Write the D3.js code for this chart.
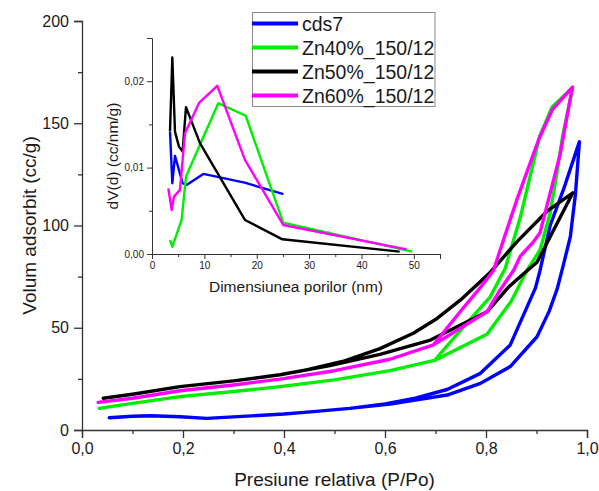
<!DOCTYPE html>
<html>
<head>
<meta charset="utf-8">
<script src="https://cdn.jsdelivr.net/npm/d3@7/dist/d3.min.js"></script>
<style>
  html, body { margin: 0; padding: 0; background: #fff; }
  svg text { font-family: "Liberation Sans", Arial, sans-serif; fill: #1a1a1a; }
</style>
</head>
<body>
<svg id="chart" width="599" height="491"></svg>
<script>
// Sample names and colours
const seriesNames = ["cds7", "Zn40%_150/12", "Zn50%_150/12", "Zn60%_150/12"];
const seriesColors = ["#0000ff", "#00ee00", "#000000", "#ff00ff"];

// N2 isotherms: [P/Po, volume adsorbed cc/g], adsorption branch followed by desorption branch
const isoCds7 = [
  [0.054, 6.0], [0.10, 6.7], [0.135, 7.0], [0.194, 6.5], [0.247, 5.7], [0.326, 6.8],
  [0.40, 7.8], [0.458, 9.0], [0.53, 10.6], [0.61, 12.7], [0.66, 14.6], [0.723, 17.1],
  [0.789, 22.8], [0.848, 31.0], [0.901, 45.6], [0.925, 58.0], [0.941, 69.0],
  [0.954, 81.5], [0.967, 94.5], [0.977, 115.0], [0.985, 141.0],
  [0.954, 118.0], [0.927, 100.0], [0.907, 78.0], [0.898, 69.5], [0.848, 41.6],
  [0.789, 27.7], [0.723, 19.8], [0.66, 15.6], [0.60, 12.8], [0.53, 10.6]
];
const isoZn40 = [
  [0.034, 10.6], [0.10, 13.0], [0.194, 16.3], [0.30, 18.8], [0.392, 21.2], [0.50, 24.5],
  [0.61, 29.0], [0.70, 34.2], [0.802, 46.8], [0.85, 63.0], [0.881, 78.0], [0.907, 88.0],
  [0.927, 106.0], [0.94, 125.0], [0.952, 144.0], [0.972, 167.6],
  [0.931, 158.0], [0.906, 143.4], [0.868, 104.0], [0.838, 79.0], [0.808, 65.0],
  [0.756, 50.5], [0.70, 34.6]
];
const isoZn50 = [
  [0.042, 15.5], [0.10, 17.5], [0.194, 21.2], [0.30, 24.0], [0.392, 27.0], [0.491, 31.5],
  [0.59, 37.0], [0.69, 44.0], [0.802, 57.8], [0.845, 70.0], [0.875, 76.5], [0.901, 82.0],
  [0.972, 116.0],
  [0.921, 107.0], [0.861, 92.0], [0.808, 77.0], [0.78, 70.5], [0.749, 63.5],
  [0.70, 54.0], [0.656, 47.3], [0.59, 39.8], [0.52, 33.8], [0.44, 29.2]
];
const isoZn60 = [
  [0.032, 13.5], [0.10, 15.5], [0.194, 19.2], [0.30, 22.0], [0.392, 24.9], [0.50, 29.0],
  [0.61, 34.6], [0.696, 41.6], [0.802, 57.8], [0.828, 68.5], [0.855, 78.2], [0.868, 85.0],
  [0.894, 92.0], [0.907, 96.5], [0.947, 135.0], [0.971, 167.6],
  [0.931, 156.5], [0.904, 141.8], [0.861, 112.5], [0.828, 88.0], [0.815, 78.0],
  [0.785, 68.5], [0.756, 60.0], [0.696, 41.6]
];

// Pore size distributions: [pore diameter nm, dV(d) cc/nm/g]
const psdCds7 = [
  [3.44, 0.01417], [3.88, 0.00819], [4.39, 0.01136], [5.85, 0.00819], [6.6, 0.0080],
  [9.8, 0.00927], [17.7, 0.00826], [25.1, 0.00692]
];
const psdZn40 = [
  [3.44, 0.00162], [3.88, 0.00085], [5.66, 0.00394], [6.49, 0.00896], [12.66, 0.01746],
  [17.9, 0.0160], [25.06, 0.00363], [49.7, 0.00027]
];
const psdZn50 = [
  [3.44, 0.0142], [3.88, 0.02275], [4.39, 0.01417], [5.15, 0.01243], [5.85, 0.01186],
  [6.49, 0.0170], [9.16, 0.01283], [17.75, 0.00394], [24.9, 0.0017], [47.3, 0.00027]
];
const psdZn60 = [
  [3.12, 0.0076], [3.75, 0.0051], [4.2, 0.00664], [5.34, 0.00742], [6.3, 0.01398],
  [9.03, 0.01753], [12.47, 0.01947], [17.75, 0.0109], [25.06, 0.00336], [48.6, 0.00054]
];

// Axis ticks
const mainXTicks = [0, 0.2, 0.4, 0.6, 0.8, 1.0];
const mainXMinor = [0.1, 0.3, 0.5, 0.7, 0.9];
const mainYTicks = [0, 50, 100, 150, 200];
const mainYMinor = [25, 75, 125, 175];
const insetXTicks = [0, 10, 20, 30, 40, 50];
const insetXMinor = [5, 15, 25, 35, 45, 55];
const insetYTicks = [0, 0.01, 0.02];
const insetYMinor = [0.005, 0.015, 0.025];

const isotherms = [isoCds7, isoZn40, isoZn50, isoZn60];
const distributions = [psdCds7, psdZn40, psdZn50, psdZn60];

const svg = d3.select("#chart");
const comma = d => d3.format(".1f")(d).replace(".", ",");
const comma2 = d => d3.format(".2f")(d).replace(".", ",");

// ---------- main plot ----------
const x = d3.scaleLinear().domain([0, 1]).range([82, 587]);
const y = d3.scaleLinear().domain([0, 200]).range([430, 21]);

const axisColor = "#333";

function styleAxis(g, fontSize) {
  g.select(".domain").attr("stroke", axisColor).attr("stroke-width", 1.3);
  g.selectAll(".tick line").attr("stroke", axisColor).attr("stroke-width", 1.3);
  g.selectAll(".tick text").attr("fill", "#1a1a1a")
    .style("font-family", '"Liberation Sans", Arial, sans-serif')
    .style("font-size", fontSize + "px");
}

const gx = svg.append("g").attr("transform", "translate(0,430)")
  .call(d3.axisBottom(x).tickValues(mainXTicks).tickFormat(comma).tickSizeOuter(0).tickSize(8).tickPadding(5));
styleAxis(gx, 16);
svg.append("g").attr("transform", "translate(0,430)")
  .call(d3.axisBottom(x).tickValues(mainXMinor).tickFormat("").tickSizeOuter(0).tickSize(4))
  .call(g => { g.select(".domain").remove(); g.selectAll("line").attr("stroke", axisColor).attr("stroke-width", 1.3); });

const gy = svg.append("g").attr("transform", "translate(82,0)")
  .call(d3.axisLeft(y).tickValues(mainYTicks).tickSizeOuter(0).tickSize(8).tickPadding(5));
styleAxis(gy, 16);
svg.append("g").attr("transform", "translate(82,0)")
  .call(d3.axisLeft(y).tickValues(mainYMinor).tickFormat("").tickSizeOuter(0).tickSize(4))
  .call(g => { g.select(".domain").remove(); g.selectAll("line").attr("stroke", axisColor).attr("stroke-width", 1.3); });

svg.append("text").attr("x", 334.5).attr("y", 486).attr("text-anchor", "middle")
  .style("font-size", "19px").text("Presiune relativa (P/Po)");
svg.append("text").attr("transform", "translate(36,225.5) rotate(-90)").attr("text-anchor", "middle")
  .style("font-size", "19px").text("Volum adsorbit (cc/g)");

const mainLine = d3.line().x(d => x(d[0])).y(d => y(d[1]));
svg.append("g").selectAll("path").data(isotherms).join("path")
  .attr("d", mainLine).attr("fill", "none")
  .attr("stroke", (d, i) => seriesColors[i]).attr("stroke-width", 3.4)
  .attr("stroke-linejoin", "round").attr("stroke-linecap", "round");

// ---------- inset: pore size distribution ----------
const ix = d3.scaleLinear().domain([0, 55]).range([152, 440]);
const iy = d3.scaleLinear().domain([0, 0.025]).range([254, 38]);

const igx = svg.append("g").attr("transform", "translate(0,254)")
  .call(d3.axisBottom(ix).tickValues(insetXTicks).tickSizeOuter(0).tickSize(5).tickPadding(3));
styleAxis(igx, 10);
igx.selectAll(".domain, .tick line").attr("stroke-width", 1);
svg.append("g").attr("transform", "translate(0,254)")
  .call(d3.axisBottom(ix).tickValues(insetXMinor).tickFormat("").tickSizeOuter(0).tickSize(3))
  .call(g => { g.select(".domain").remove(); g.selectAll("line").attr("stroke", axisColor); });

const igy = svg.append("g").attr("transform", "translate(152,0)")
  .call(d3.axisLeft(iy).tickValues(insetYTicks).tickFormat(comma2).tickSizeOuter(0).tickSize(5).tickPadding(3));
styleAxis(igy, 10);
igy.selectAll(".domain, .tick line").attr("stroke-width", 1);
svg.append("g").attr("transform", "translate(152,0)")
  .call(d3.axisLeft(iy).tickValues(insetYMinor).tickFormat("").tickSizeOuter(0).tickSize(3))
  .call(g => { g.select(".domain").remove(); g.selectAll("line").attr("stroke", axisColor); });

svg.append("text").attr("x", 296).attr("y", 292).attr("text-anchor", "middle")
  .style("font-size", "15.5px").text("Dimensiunea porilor (nm)");
svg.append("text").attr("transform", "translate(118,156) rotate(-90)").attr("text-anchor", "middle")
  .style("font-size", "15.5px").text("dV(d) (cc/nm/g)");

const insetLine = d3.line().x(d => ix(d[0])).y(d => iy(d[1]));
svg.append("g").selectAll("path").data(distributions).join("path")
  .attr("d", insetLine).attr("fill", "none")
  .attr("stroke", (d, i) => seriesColors[i]).attr("stroke-width", 2.4)
  .attr("stroke-linejoin", "round");

// ---------- legend ----------
const legend = svg.append("g");
legend.append("rect").attr("x", 252.5).attr("y", 12.5).attr("width", 182.5).attr("height", 94)
  .attr("fill", "#fff").attr("stroke", "#888").attr("stroke-width", 1);
const rowY = d3.scalePoint().domain(seriesNames).range([23.5, 95.5]);
seriesNames.forEach((name, i) => {
  legend.append("line").attr("x1", 252).attr("x2", 298)
    .attr("y1", rowY(name)).attr("y2", rowY(name))
    .attr("stroke", seriesColors[i]).attr("stroke-width", 4);
  legend.append("text").attr("x", 302).attr("y", rowY(name) + 7)
    .style("font-size", "19.5px").text(name);
});
</script>
</body>
</html>
